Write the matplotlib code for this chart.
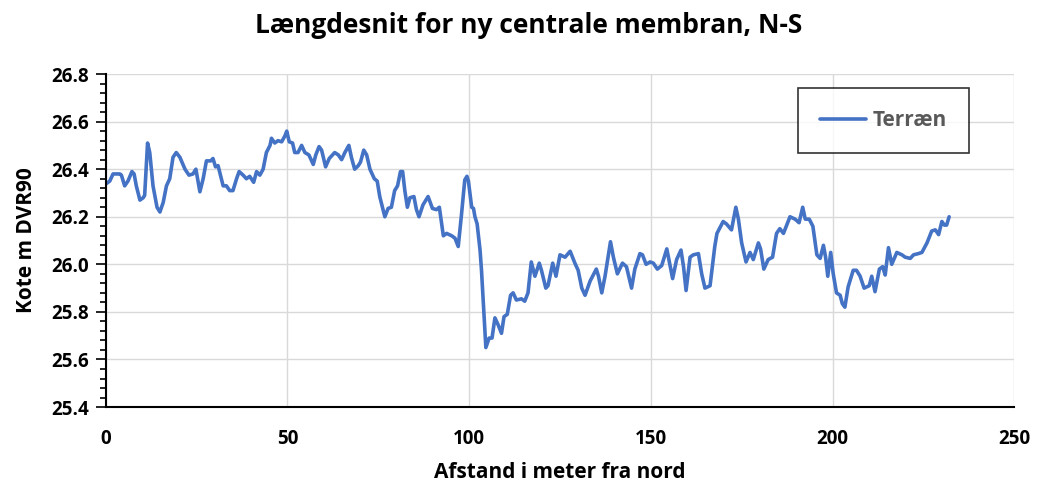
import numpy as np
import matplotlib.pyplot as plt
from matplotlib.ticker import MultipleLocator

plt.rcParams['font.family'] = ['Open Sans', 'DejaVu Sans']

# afstand (m) og kote (m DVR90)
afstand = [0.2, 1.1, 2.0, 3.9, 4.3, 5.2, 6.1, 7.2, 7.8, 8.4, 9.4, 10.3, 10.7, 11.5, 12.1,
           13.0, 14.1, 14.9, 15.8, 16.7, 17.6, 18.5, 19.4, 20.4, 21.8, 22.9, 24.0, 24.8,
           25.9, 26.8, 27.7, 28.9, 29.5, 30.2, 30.9, 32.3, 33.2, 34.1, 35.0, 36.0, 36.7,
           37.8, 38.7, 39.6, 40.7, 41.5, 42.4, 43.3, 44.2, 45.2, 45.6, 46.5, 47.4, 48.4,
           49.3, 49.8, 50.5, 51.4, 52.0, 52.9, 53.9, 54.8, 55.9, 57.1, 57.8, 58.7, 59.4,
           60.5, 61.5, 63.0, 64.0, 64.9, 65.8, 66.9, 67.6, 68.5, 69.5, 70.1, 71.0, 71.8,
           72.7, 73.9, 74.7, 75.4, 76.8, 77.7, 78.6, 79.5, 80.3, 81.1, 81.7, 82.3, 83.0,
           83.7, 84.8, 85.5, 86.2, 87.3, 88.7, 89.9, 91.0, 91.8, 92.9, 93.8, 95.2, 96.1,
           97.0, 97.9, 98.8, 99.4, 99.8, 100.7, 101.2, 101.6, 102.2, 103.0, 103.4, 104.1,
           104.6, 105.5, 106.3, 107.1, 108.0, 108.9, 109.6, 110.5, 111.4, 112.1, 113.0,
           114.4, 115.3, 116.2, 117.1, 118.1, 119.3, 119.9, 121.1, 121.7, 123.0, 123.9,
           125.0, 126.4, 127.8, 129.1, 130.0, 131.0, 131.9, 133.3, 135.0, 135.6, 136.5,
           137.4, 138.9, 139.7, 140.8, 142.2, 143.3, 144.7, 145.6, 147.0, 147.7, 148.7,
           149.8, 150.7, 151.8, 153.0, 154.4, 156.0, 157.1, 158.3, 159.0, 159.7, 160.8,
           161.7, 163.1, 164.0, 164.9, 166.3, 167.6, 168.2, 169.9, 170.8, 172.2, 173.4,
           174.1, 175.0, 176.2, 177.3, 178.2, 179.6, 180.2, 181.1, 182.3, 183.5, 184.6,
           185.5, 186.5, 188.3, 189.7, 190.8, 191.8, 192.5, 193.6, 194.6, 195.7, 196.6,
           197.5, 198.1, 198.7, 199.5, 200.2, 201.1, 202.1, 202.7, 203.4, 204.3, 205.7,
           206.6, 207.6, 208.7, 210.1, 210.8, 211.7, 212.9, 213.8, 214.5, 215.4, 216.3,
           217.7, 219.1, 220.0, 221.4, 222.3, 223.6, 224.6, 226.0, 227.3, 228.3, 229.2,
           230.1, 230.8, 231.4, 232.1]
kote = [26.34, 26.35, 26.38, 26.38, 26.375, 26.33, 26.35, 26.39, 26.38, 26.33, 26.27, 26.28,
        26.29, 26.51, 26.47, 26.33, 26.24, 26.22, 26.26, 26.33, 26.36, 26.45, 26.47, 26.45,
        26.40, 26.375, 26.38, 26.40, 26.305, 26.36, 26.435, 26.435, 26.445, 26.41, 26.415,
        26.33, 26.33, 26.31, 26.31, 26.36, 26.39, 26.375, 26.36, 26.37, 26.345, 26.39,
        26.375, 26.40, 26.47, 26.50, 26.53, 26.51, 26.52, 26.515, 26.54, 26.56, 26.515,
        26.51, 26.47, 26.47, 26.50, 26.47, 26.46, 26.42, 26.46, 26.495, 26.48, 26.41,
        26.445, 26.47, 26.46, 26.44, 26.47, 26.50, 26.45, 26.40, 26.415, 26.43, 26.48,
        26.46, 26.40, 26.36, 26.35, 26.285, 26.20, 26.235, 26.24, 26.31, 26.33, 26.39,
        26.39, 26.31, 26.24, 26.28, 26.285, 26.23, 26.20, 26.25, 26.285, 26.235, 26.23,
        26.24, 26.12, 26.13, 26.12, 26.11, 26.075, 26.21, 26.355, 26.37, 26.35, 26.24,
        26.235, 26.20, 26.17, 26.06, 25.975, 25.79, 25.65, 25.69, 25.69, 25.775, 25.745,
        25.71, 25.78, 25.79, 25.87, 25.88, 25.85, 25.855, 25.845, 25.88, 26.01, 25.95,
        26.005, 25.975, 25.90, 25.91, 26.005, 25.95, 26.04, 26.03, 26.055, 26.005, 25.975,
        25.90, 25.87, 25.93, 25.98, 25.95, 25.88, 25.95, 26.095, 26.03, 25.96, 26.005,
        25.99, 25.90, 25.98, 26.045, 26.04, 26.00, 26.01, 26.005, 25.98, 25.995, 26.065,
        25.94, 26.02, 26.06, 25.99, 25.89, 26.03, 26.04, 26.045, 25.96, 25.90, 25.91,
        26.075, 26.13, 26.18, 26.17, 26.145, 26.24, 26.19, 26.09, 26.01, 26.05, 26.02,
        26.09, 26.065, 25.98, 26.02, 26.03, 26.13, 26.15, 26.13, 26.20, 26.19, 26.175,
        26.24, 26.19, 26.19, 26.16, 26.04, 26.025, 26.08, 26.03, 25.95, 26.05, 25.96,
        25.88, 25.87, 25.835, 25.82, 25.905, 25.975, 25.975, 25.95, 25.90, 25.91, 25.95,
        25.885, 25.98, 25.99, 25.955, 26.07, 26.00, 26.05, 26.04, 26.03, 26.025, 26.04,
        26.045, 26.05, 26.09, 26.14, 26.145, 26.125, 26.18, 26.165, 26.165, 26.20]

fig = plt.figure(figsize=(10.37, 4.84), dpi=100)
ax = fig.add_axes([0.102, 0.159, 0.876, 0.688])

ax.plot(afstand, kote, color='#4472C4', lw=2.6, label='Terræn',
        solid_joinstyle='round', solid_capstyle='round')

ax.set_xlim(0, 250)
ax.set_ylim(25.4, 26.8)
ax.xaxis.set_major_locator(MultipleLocator(50))
ax.yaxis.set_major_locator(MultipleLocator(0.2))
ax.yaxis.set_minor_locator(MultipleLocator(0.04))
ax.yaxis.set_major_formatter(plt.FormatStrFormatter('%.1f'))

ax.grid(True, which='major', color='#d9d9d9', lw=1)
ax.set_axisbelow(True)
for s in ['top', 'right']:
    ax.spines[s].set_visible(False)
ax.spines['left'].set_linewidth(1.5)
ax.spines['bottom'].set_linewidth(1.5)

ax.tick_params(axis='x', length=0, pad=16, labelsize=13.5)
ax.tick_params(axis='y', which='major', length=7, width=1.2, labelsize=13.5, pad=5)
ax.tick_params(axis='y', which='minor', length=4, width=1.2)
for lab in ax.get_xticklabels() + ax.get_yticklabels():
    lab.set_fontweight('bold')

ax.set_xlabel('Afstand i meter fra nord', fontsize=15, fontweight='bold', labelpad=9)
ax.set_ylabel('Kote m DVR90', fontsize=15, fontweight='bold', labelpad=10)
fig.suptitle('Længdesnit for ny centrale membran, N-S', fontsize=19, fontweight='bold',
             x=0.51, y=0.975)

leg = ax.legend(loc='upper left', bbox_to_anchor=(0.762, 0.958), fancybox=False,
                edgecolor='black', handlelength=2.2, handletextpad=0.35, borderpad=1.05,
                borderaxespad=0, prop={'weight': 'bold', 'size': 15})
leg.get_frame().set_linewidth(1.2)
for t in leg.get_texts():
    t.set_color('#595959')

fig.savefig('out.png', dpi=100)
